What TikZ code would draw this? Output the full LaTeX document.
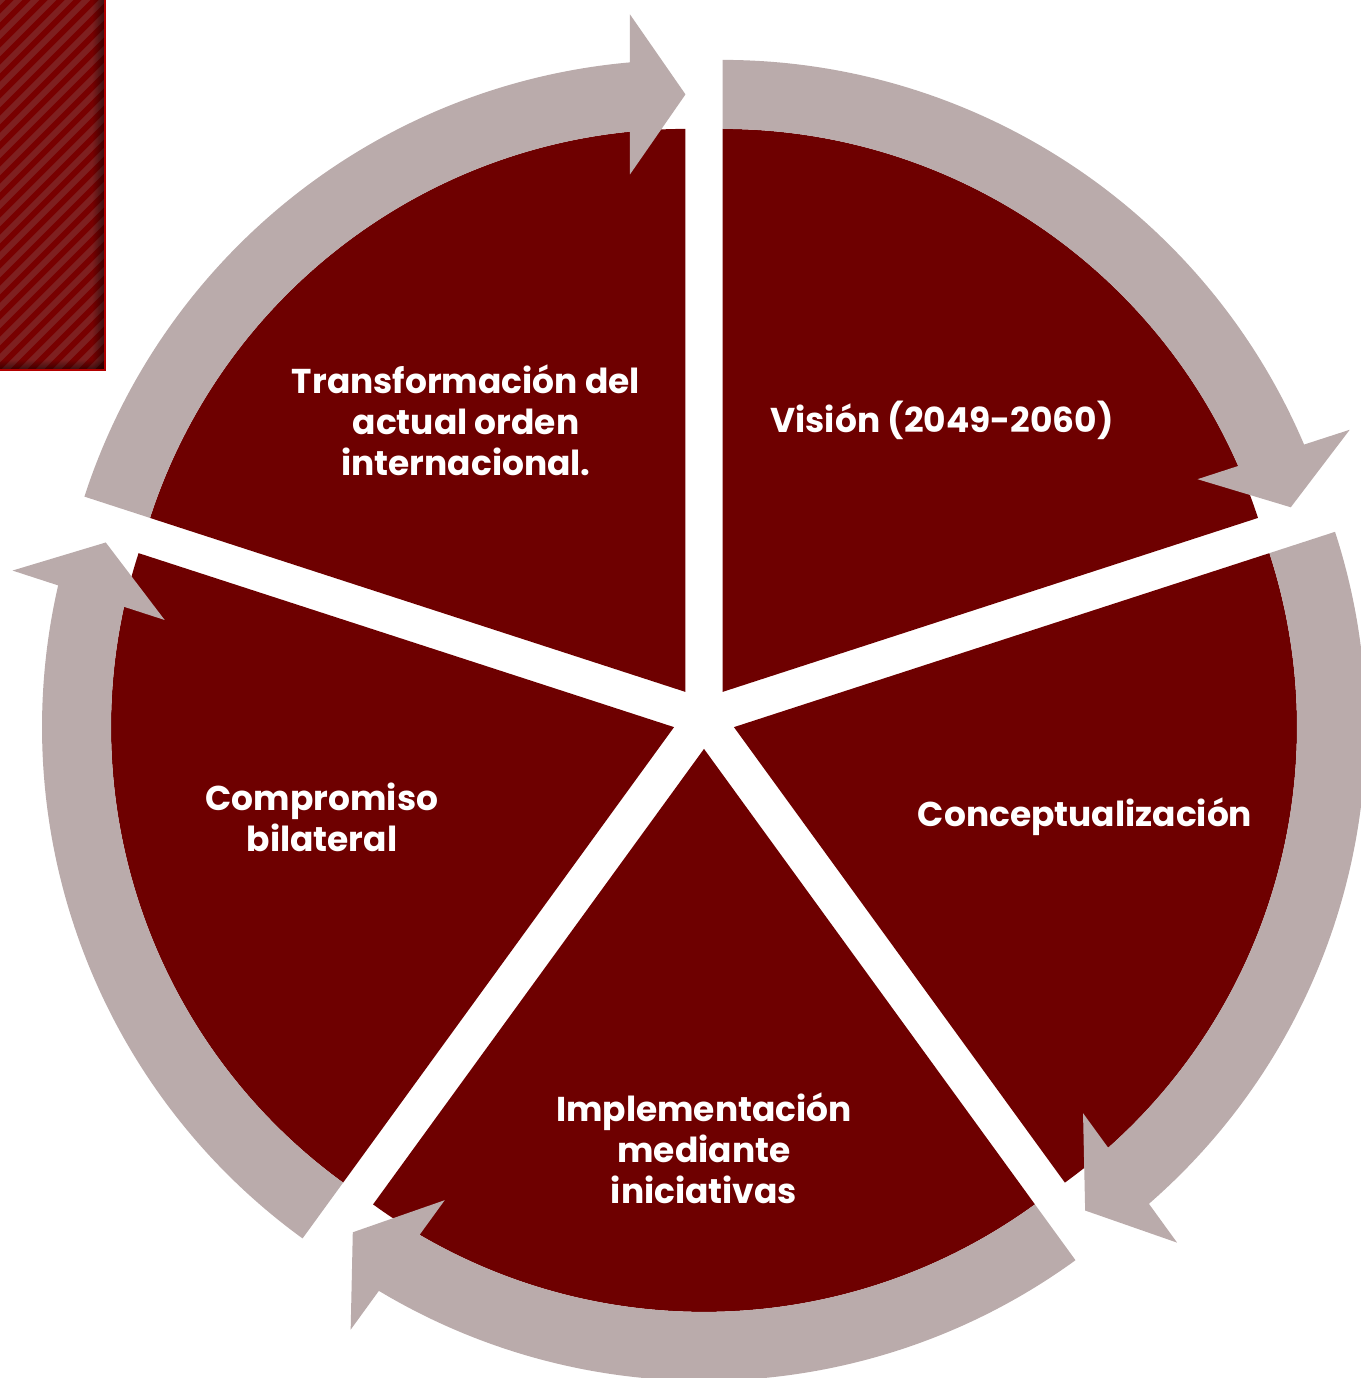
\documentclass[tikz,border=0pt]{standalone}
\usepackage{fontspec}
\setmainfont{Poppins}
\usetikzlibrary{calc,fadings}
\definecolor{wine}{HTML}{6E0000}
\definecolor{ash}{HTML}{BAABAB}
\definecolor{stripedark}{HTML}{780000}
\definecolor{stripelight}{HTML}{7E2020}
\tikzfading[name=shadeeast, left color=transparent!100, right color=transparent!0]
\tikzfading[name=shadesouth, top color=transparent!100, bottom color=transparent!0]

\begin{document}
\begin{tikzpicture}[x=0.02cm,y=0.02cm,
    sector/.style={fill=wine},
    ring/.style={fill=ash},
    stagetext/.style={text=white,align=center,
      font=\bfseries\fontsize{19.6}{23.3}\selectfont}]

          \useasboundingbox (-704,-660.6) rectangle (656,717.4);

          % striped box
          \begin{scope}
            \clip (-704,347.4) rectangle (-599,717.4);
            \fill[stripedark] (-704,347.4) rectangle (-599,717.4);
            \foreach \c in {940,957,...,1440}
              \fill[stripelight] (-704,\c-704) -- (-599,\c-599) -- (-599,\c-590.5) -- (-704,\c-695.5) -- cycle;
            \fill[black,opacity=.55,path fading=shadeeast] (-612,347.4) rectangle (-599,717.4);
            \fill[black,opacity=.55,path fading=shadesouth] (-704,347.4) rectangle (-599,358);
          \end{scope}
          \draw[red!70!black,line width=1.5] (-599,717.4) -- (-599,347.4) -- (-704,347.4);

          % sectors
          \foreach \s in {90,18,-54,-126,-198}{
            \begin{scope}[shift={(\s-36:31.5)}]
              \fill[sector] (0,0) -- (\s:563) arc[start angle=\s, end angle=\s-72, radius=563] -- cycle;
            \end{scope}
          }

          % arrows
          \foreach \s in {90,18,-54,-126,-198}{
            \pgfmathsetmacro{\e}{\s-72}
            \begin{scope}[shift={(\s-36:31.5)}]
              \fill[ring] (\s:632) arc[start angle=\s, end angle=\e+5.04, radius=632]
                -- ($(\e:677.5)+(\e+90:55.5)$) -- (\e:597.5)
                -- ($(\e:517.5)+(\e+90:55.5)$)
                -- (\e+5.66:563) arc[start angle=\e+5.66, end angle=\s, radius=563] -- cycle;
            \end{scope}
          }

          % labels
          \node[stagetext] (trans) at (-238,297) {Transformación del\\actual orden\\internacional.};
          \node[stagetext] (vision) at (238,297) {Visión (2049-2060)};
          \node[stagetext] (concep) at (381,-99) {Conceptualización};
          \node[stagetext] (impl) at (0,-431) {Implementación\\mediante\\iniciativas};
          \node[stagetext] (comp) at (-382,-100) {Compromiso\\bilateral};

        \end{tikzpicture}
\end{document}
